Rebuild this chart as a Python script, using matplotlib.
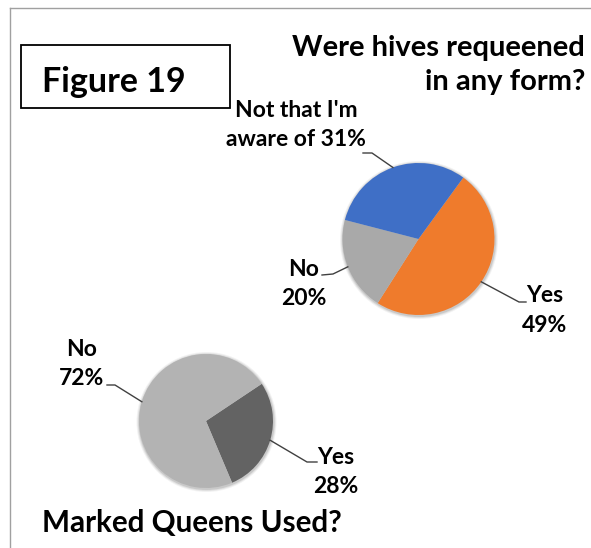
import numpy as np
import matplotlib
matplotlib.use("Agg")
import matplotlib.pyplot as plt
from matplotlib.patches import Rectangle, Circle

plt.rcParams['font.family'] = ['Lato', 'DejaVu Sans']

# ---- data ----
q1_title = "Were hives requeened\nin any form?"
q1_labels = ["Yes", "No", "Not that I'm\naware of"]
q1_values = [49, 20, 31]
q1_colors = ["#ef7b2c", "#a9a9a9", "#3f6fc6"]

q2_title = "Marked Queens Used?"
q2_labels = ["Yes", "No"]
q2_values = [28, 72]
q2_colors = ["#636363", "#b3b3b3"]

fig_label = "Figure 19"

W, H = 591, 548
fig = plt.figure(figsize=(W / 100, H / 100), dpi=100)
ax = fig.add_axes([0, 0, 1, 1])


def Y(y):  # image y (down) -> data y (up)
    return H - y


def draw_pie(values, colors, center, radius, start):
    # soft drop shadow
    for k, a in [(3.0, 0.05), (2.0, 0.07), (1.0, 0.10)]:
        ax.add_patch(Circle((center[0] + 0.5, Y(center[1]) - 1.0), radius + k,
                            color="black", alpha=a, lw=0, zorder=0))
    wedges, _ = ax.pie(values, colors=colors, center=(center[0], Y(center[1])), radius=radius,
                       startangle=start, counterclock=False, frame=True,
                       wedgeprops=dict(linewidth=0))
    return wedges


c1, r1 = (418.5, 239), 76
w1 = draw_pie(q1_values, q1_colors, c1, r1, 53.9)
c2, r2 = (206, 421), 67
w2 = draw_pie(q2_values, q2_colors, c2, r2, 33.7)
ax.set_xlim(0, W)
ax.set_ylim(0, H)
ax.set_aspect('auto')
ax.axis('off')

# outer border (cropped frame)
ax.plot([10, W + 5], [Y(8), Y(8)], color="#a0a0a0", lw=1.0)
ax.plot([10, 10], [Y(8), Y(H + 5)], color="#a0a0a0", lw=1.0)

# Figure label box
ax.add_patch(Rectangle((21, Y(108)), 209, 63, fill=False, ec="black", lw=1.3))
ax.text(42, Y(92), fig_label, fontsize=24.5, fontweight='bold', ha='left', va='baseline')

# titles (va='baseline' on multi-line text aligns the last line)
ax.text(585, Y(90), q1_title, fontsize=21, fontweight='bold', ha='right', va='baseline',
        multialignment='right', linespacing=1.4)
ax.text(42, Y(532), q2_title, fontsize=21.3, fontweight='bold', ha='left', va='baseline')


def leader(wedge, center, radius, elbow, end):
    mid = np.deg2rad((wedge.theta1 + wedge.theta2) / 2)
    p = (center[0] + radius * np.cos(mid), Y(center[1]) + radius * np.sin(mid))
    ax.plot([p[0], elbow[0], end[0]], [p[1], Y(elbow[1]), Y(end[1])], color="#404040", lw=1.0)


lab_kw = dict(fontsize=16.5, fontweight='bold', ha='center', va='baseline',
              multialignment='center', linespacing=1.5)

# upper pie labels
ax.text(545, Y(331.5), f"{q1_labels[0]}\n{q1_values[0]}%", **lab_kw)
leader(w1[0], c1, r1, (519, 302), (526, 302))
ax.text(304, Y(305), f"{q1_labels[1]}\n{q1_values[1]}%", **lab_kw)
leader(w1[1], c1, r1, (333, 274), (322, 275))
ax.text(296, Y(146.5), f"{q1_labels[2]} {q1_values[2]}%", **lab_kw)
leader(w1[2], c1, r1, (372, 153), (363, 153))

# lower pie labels
ax.text(336, Y(493), f"{q2_labels[0]}\n{q2_values[0]}%", **lab_kw)
leader(w2[0], c2, r2, (307, 462), (317, 462))
ax.text(82, Y(385), f"{q2_labels[1]}\n{q2_values[1]}%", **lab_kw)
leader(w2[1], c2, r2, (115, 385), (107, 385))

fig.savefig("out.png", dpi=100)
